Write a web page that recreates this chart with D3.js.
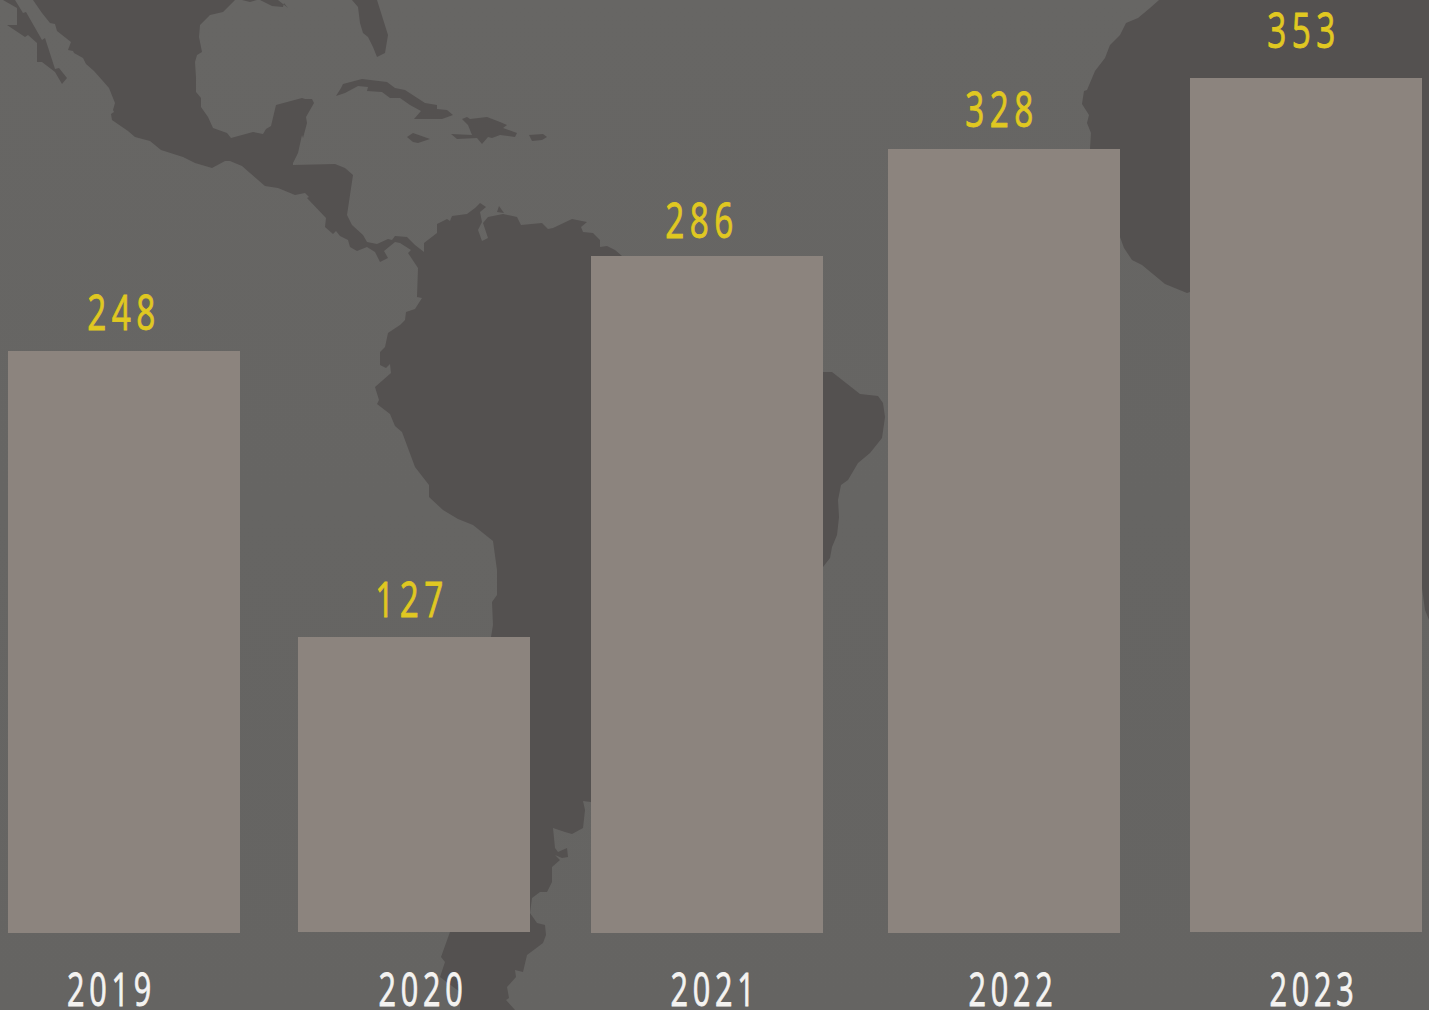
<!DOCTYPE html>
<html>
<head>
<meta charset="utf-8">
<script src="https://cdn.jsdelivr.net/npm/d3@7"></script>
<style>
  html, body { margin: 0; padding: 0; background: #656462; overflow: hidden; }
  text { font-family: "Open Sans", sans-serif; }
</style>
</head>
<body>
<div id="chart"></div>
<script>
const years = ["2019", "2020", "2021", "2022", "2023"];
const values = [248, 127, 286, 328, 353];

// background map outlines (pixels)
const northAmerica = [[33,0],[42,13],[50,23],[55,24],[57,31],[71,42],[68,50],[73,51],[74,53],[83,58],[86,64],[94,71],[102,80],[109,88],[115,103],[113,110],[114,112],[111,114],[112,120],[128,131],[135,137],[150,141],[161,150],[183,157],[195,163],[212,168],[225,161],[230,161],[242,166],[265,186],[278,188],[295,195],[305,193],[309,197],[307,198],[326,218],[325,227],[333,234],[336,231],[340,236],[348,240],[350,247],[357,251],[367,247],[375,252],[380,262],[388,258],[384,251],[395,242],[400,243],[411,250],[408,253],[418,268],[417,297],[422,298],[415,309],[406,312],[405,320],[400,325],[388,333],[385,347],[380,352],[380,365],[386,368],[390,364],[391,373],[375,387],[379,400],[377,404],[390,414],[395,426],[402,432],[415,467],[429,485],[429,497],[443,510],[458,519],[473,525],[493,541],[497,570],[497,595],[492,602],[493,625],[491,637],[450,932],[441,957],[445,962],[440,977],[460,992],[460,1010],[515,1010],[506,1000],[509,998],[507,987],[516,977],[515,970],[523,972],[527,955],[543,943],[546,935],[545,925],[537,923],[530,913],[532,898],[540,892],[547,892],[552,882],[552,867],[560,860],[555,855],[562,858],[568,857],[567,848],[558,852],[555,848],[553,828],[565,832],[572,834],[583,828],[585,810],[583,801],[591,802],[823,567],[830,558],[832,547],[837,535],[839,517],[838,500],[841,485],[848,480],[858,463],[870,453],[882,438],[885,417],[883,403],[878,396],[860,394],[832,372],[823,372],[622,256],[615,250],[607,246],[600,247],[600,240],[593,233],[583,232],[581,227],[587,222],[572,219],[553,228],[548,229],[542,223],[521,225],[517,217],[503,214],[488,217],[483,223],[488,238],[482,241],[478,230],[482,222],[480,212],[486,207],[480,203],[475,208],[467,214],[452,216],[450,221],[447,219],[437,224],[437,233],[424,243],[424,252],[415,245],[407,237],[395,236],[392,240],[388,239],[377,244],[367,242],[363,235],[352,225],[347,215],[353,175],[345,168],[335,164],[293,165],[293,163],[298,153],[302,135],[303,138],[307,123],[306,117],[314,103],[312,99],[305,99],[302,98],[276,105],[271,126],[266,129],[263,134],[253,132],[231,138],[227,133],[213,128],[208,117],[201,107],[201,98],[196,92],[196,78],[195,62],[197,55],[202,52],[199,37],[200,25],[210,15],[223,12],[235,0]];
const baja = [[3,0],[17,8],[17,25],[7,25],[25,37],[28,35],[37,43],[37,62],[42,62],[55,72],[62,84],[67,78],[59,68],[55,69],[45,38],[42,40],[26,12],[23,13],[15,0]];
const bahamasTop = [[242,0],[250,2],[257,0]];
const bahamasTop2 = [[260,0],[272,6],[283,7],[284,3],[288,8],[278,0]];
const florida = [[352,0],[358,7],[360,23],[363,33],[368,37],[373,47],[377,57],[385,53],[388,35],[377,0]];
const cuba = [[336,96],[341,88],[343,84],[362,79],[387,82],[395,88],[405,90],[425,103],[437,105],[437,109],[447,110],[453,115],[442,119],[414,119],[421,111],[410,105],[400,98],[390,98],[382,92],[367,91],[368,87],[358,86],[345,93]];
const hispaniola = [[462,119],[467,117],[470,119],[487,117],[500,122],[507,125],[503,128],[517,133],[515,137],[500,135],[492,138],[488,137],[482,144],[477,138],[457,139],[451,134],[472,135],[468,125]];
const jamaica = [[407,137],[413,133],[430,139],[418,143],[413,142]];
const puertoRico = [[529,135],[543,134],[547,137],[542,140],[532,141]];
const aruba = [[499,206],[504,213],[497,212]];
const africa = [[1159,0],[1150,8],[1138,18],[1126,23],[1120,35],[1110,45],[1105,58],[1095,71],[1087,90],[1084,91],[1082,104],[1089,115],[1087,123],[1091,133],[1090,149],[1120,237],[1124,248],[1132,260],[1142,265],[1165,284],[1187,293],[1190,292],[1300,400],[1422,588],[1425,610],[1429,620],[1429,0]];
const land = [northAmerica, baja, bahamasTop, bahamasTop2, florida, cuba, hispaniola, jamaica, puertoRico, aruba, africa];

const width = 1429, height = 1010;

const svg = d3.select("#chart").append("svg")
    .attr("width", width)
    .attr("height", height)
    .style("display", "block");

const defs = svg.append("defs");
const bg = defs.append("linearGradient").attr("id", "bg").attr("x1", 0).attr("y1", 0).attr("x2", 0).attr("y2", 1);
bg.append("stop").attr("offset", "0%").attr("stop-color", "#676664");
bg.append("stop").attr("offset", "100%").attr("stop-color", "#656462");

svg.append("rect").attr("width", width).attr("height", height).attr("fill", "url(#bg)");

const outline = d3.line().curve(d3.curveLinearClosed);
svg.selectAll("path.land")
    .data(land)
    .join("path")
    .attr("class", "land")
    .attr("d", outline)
    .attr("fill", "#545150");

// the source bars are hand placed, so both scales are piecewise
const barWidth = 232;
const x = d3.scaleOrdinal(years, [8, 298, 591, 888, 1190]);
const base = d3.scaleOrdinal(years, [933, 932, 933, 933, 932]);
const y = d3.scaleLinear([127, 248, 286, 328, 353], [637, 351, 256, 149, 78]);
const valueX = d3.scaleOrdinal(years, [122, 410, 700, 1000, 1302]);
const valueY = d3.scaleOrdinal(years, [330, 617, 238, 127, 48]);
const yearX = d3.scaleOrdinal(years, [109.5, 421, 713, 1011, 1312]);

const rows = years.map((year, i) => ({ year: year, value: values[i] }));

svg.selectAll("rect.bar")
    .data(rows)
    .join("rect")
    .attr("class", "bar")
    .attr("x", d => x(d.year))
    .attr("y", d => y(d.value))
    .attr("width", barWidth)
    .attr("height", d => base(d.year) - y(d.value))
    .attr("fill", "#8c847e");

// no condensed font here, so squeeze Open Sans and open the spacing back up
const squeeze = 0.68;

function wideText(sel, fontSize, spacing, fill) {
    sel.attr("text-anchor", "middle")
        .attr("font-size", fontSize)
        .attr("letter-spacing", spacing + "px")
        .attr("fill", fill)
        .attr("stroke", fill)
        .attr("stroke-width", 0.9);
}

svg.selectAll("text.value")
    .data(rows)
    .join("text")
    .attr("class", "value")
    .attr("transform", d => `translate(${valueX(d.year) + 2},${valueY(d.year)}) scale(${squeeze},1)`)
    .call(wideText, 49, 8, "#e0c821")
    .text(d => d.value);

svg.selectAll("text.year")
    .data(rows)
    .join("text")
    .attr("class", "year")
    .attr("transform", d => `translate(${yearX(d.year) + 2},1006) scale(${squeeze},1)`)
    .call(wideText, 45, 7, "#f4f3f1")
    .text(d => d.year);
</script>
</body>
</html>
